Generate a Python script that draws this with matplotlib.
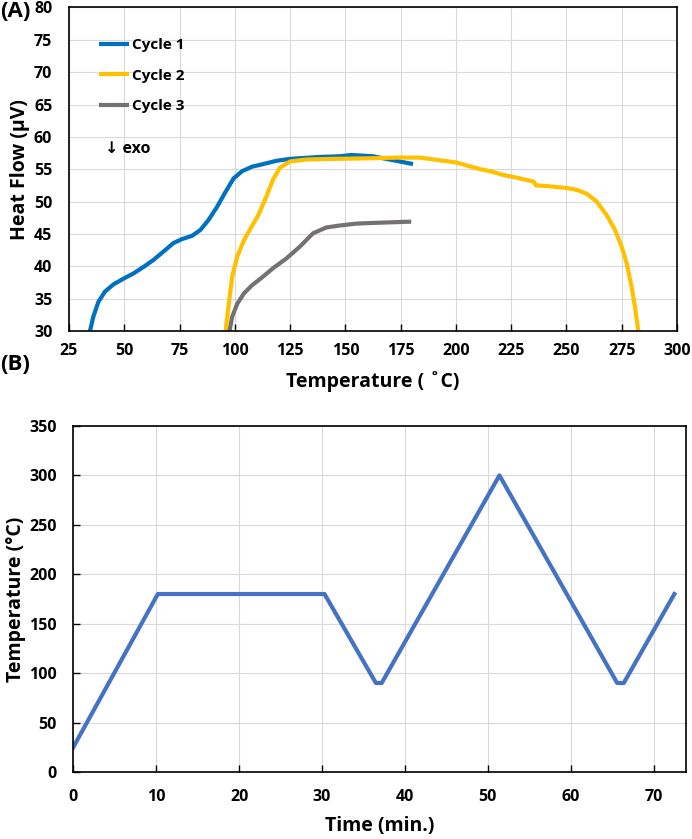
import matplotlib.pyplot as plt
import numpy as np

plt.rcParams['font.family'] = ['Open Sans', 'DejaVu Sans']
plt.rcParams['font.weight'] = 'bold'

# (A) DSC heat flow curves
c1_temp = [34.5, 36.0, 38.3, 41.3, 45.1, 49.7, 54.2, 58.7, 63.3, 67.8, 72.3, 76.1, 80.6, 84.4,
           88.2, 92.0, 95.8, 99.5, 103.3, 107.9, 111.7, 118.8, 125.0, 138.4, 147.4, 152.7,
           162.5, 170.0, 180.6]
c1_flow = [30.0, 32.2, 34.5, 36.1, 37.2, 38.1, 38.9, 39.9, 41.0, 42.3, 43.6, 44.2, 44.7, 45.6,
           47.2, 49.2, 51.5, 53.6, 54.7, 55.4, 55.7, 56.3, 56.6, 56.9, 57.0, 57.2,
           57.0, 56.5, 55.8]

c2_temp = [95.8, 97.3, 98.8, 101.1, 104.1, 107.9, 110.5, 114.3, 117.3, 120.3, 125.0, 132.4,
           144.4, 162.5, 175.0, 183.6, 200.0, 211.0, 215.5, 221.5, 226.1, 235.1, 236.3, 241.1,
           250.1, 254.7, 259.2, 263.7, 268.2, 272.0, 275.0, 277.3, 279.5, 281.0, 282.5]
c2_flow = [30.0, 34.2, 38.4, 41.5, 44.0, 46.3, 47.8, 50.8, 53.4, 55.2, 56.2, 56.5,
           56.6, 56.7, 56.8, 56.8, 56.05, 55.0, 54.7, 54.1, 53.8, 53.1, 52.5, 52.4,
           52.1, 51.8, 51.2, 50.0, 47.9, 45.6, 43.0, 40.4, 36.8, 33.7, 30.0]

c3_temp = [97.6, 98.8, 101.1, 104.1, 107.9, 111.7, 117.3, 123.3, 129.3, 135.4, 141.4, 147.4,
           155.0, 162.5, 179.8]
c3_flow = [30.0, 32.2, 34.2, 35.8, 37.1, 38.1, 39.7, 41.2, 43.0, 45.1, 46.0, 46.3,
           46.6, 46.7, 46.9]

# (B) temperature program
time_min = [0, 10.2, 30.3, 36.5, 37.2, 51.4, 65.6, 66.4, 72.5]
temp_c = [25, 180, 180, 90, 90, 300, 90, 90, 180]

fig = plt.figure(figsize=(6.92, 8.39), dpi=100)
grid_c = '#d9d9d9'

# ---- panel A
ax1 = fig.add_axes([0.0997, 0.6055, 0.8786, 0.3856])
ax1.plot(c1_temp, c1_flow, color='#0070c0', lw=3, label='Cycle 1', solid_capstyle='butt')
ax1.plot(c2_temp, c2_flow, color='#ffc000', lw=3, label='Cycle 2', solid_capstyle='butt')
ax1.plot(c3_temp, c3_flow, color='#767171', lw=3, label='Cycle 3', solid_capstyle='butt')
ax1.set_xlim(25, 300)
ax1.set_ylim(30, 80)
ax1.set_xticks(np.arange(25, 301, 25))
ax1.set_yticks(np.arange(30, 81, 5))
ax1.grid(True, color=grid_c, lw=0.8)
ax1.set_axisbelow(True)
ax1.tick_params(direction='in', length=5, width=1, labelsize=11.5, pad=9)
ax1.tick_params(axis='y', length=0, pad=12)
for lab in ax1.get_xticklabels() + ax1.get_yticklabels():
    lab.set_fontweight('bold')
ax1.set_xlabel('Temperature ( ˚C)', fontsize=14, fontweight='bold', labelpad=8)
ax1.set_ylabel('Heat Flow (μV)', fontsize=14, fontweight='bold', labelpad=3)
for s in ax1.spines.values():
    s.set_linewidth(1.2)
ax1.legend(loc='upper left', bbox_to_anchor=(0.049, 0.905), frameon=False,
           prop={'size': 11, 'weight': 'bold'}, handlelength=2.0, handletextpad=0.2,
           labelspacing=1.08, borderpad=0, borderaxespad=0)
ax1.text(41.3, 58.2, '↓ exo', fontsize=11.5, fontweight='bold', va='center', ha='left')
fig.text(0.0, 0.999, '(A)', fontsize=16, fontweight='bold', va='top', ha='left')

# ---- panel B
ax2 = fig.add_axes([0.1059, 0.0799, 0.8854, 0.4124])
ax2.plot(time_min, temp_c, color='#4472c4', lw=3)
ax2.set_xlim(0, 73.9)
ax2.set_ylim(0, 350)
ax2.set_xticks(np.arange(0, 71, 10))
ax2.set_yticks(np.arange(0, 351, 50))
ax2.grid(True, color=grid_c, lw=0.8)
ax2.set_axisbelow(True)
ax2.tick_params(direction='in', length=5, width=1, labelsize=11.5, pad=12)
ax2.tick_params(axis='y', pad=12)
for lab in ax2.get_xticklabels() + ax2.get_yticklabels():
    lab.set_fontweight('bold')
ax2.set_xlabel('Time (min.)', fontsize=14, fontweight='bold', labelpad=8)
ax2.set_ylabel('Temperature (°C)', fontsize=14, fontweight='bold', labelpad=2)
for s in ax2.spines.values():
    s.set_linewidth(1.2)
fig.text(0.0, 0.578, '(B)', fontsize=16, fontweight='bold', va='top', ha='left')

fig.savefig('out.png', dpi=100)
